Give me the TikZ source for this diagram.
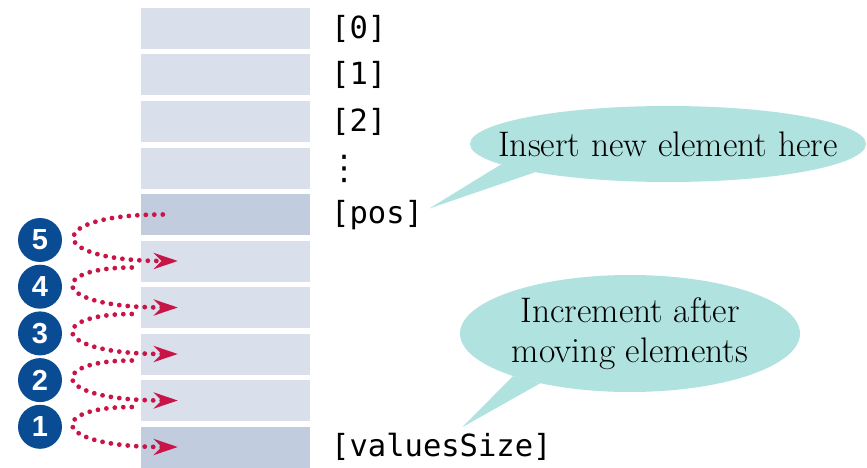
\documentclass[tikz,border=0pt]{standalone}
\usepackage{fontspec}
\setmonofont{DejaVu Sans Mono}
\newfontfamily\symfont{DejaVu Sans}
\newfontfamily\numfont{Liberation Sans}
\usetikzlibrary{calc,arrows.meta,shapes.geometric}

\definecolor{cellpale}{RGB}{217,223,235}
\definecolor{celldark}{RGB}{193,204,223}
\definecolor{movered}{RGB}{200,20,70}
\definecolor{stepblue}{RGB}{10,76,148}
\definecolor{bubbleteal}{RGB}{176,226,224}

\tikzset{
  cell/.style={rectangle, draw=none, minimum width=169, minimum height=41, inner sep=0},
  idx/.style={anchor=west, inner sep=0, font=\ttfamily\fontsize{30.5}{30.5}\selectfont},
  stepnum/.style={circle, fill=stepblue, minimum size=44, inner sep=0, text=white,
    font=\numfont\bfseries\fontsize{29}{29}\selectfont},
  movearrow/.style={movered, line width=4.8, line cap=round, dash pattern=on 0pt off 8.5pt,
    -{Stealth[length=24, width=16]}},
  bubble/.style={ellipse, fill=bubbleteal, draw=none, inner sep=0},
  bubbletext/.style={align=center, font=\fontsize{35.5}{40}\selectfont}
}

\begin{document}
\begin{tikzpicture}[x=1pt, y=-1pt]
  \useasboundingbox (0,0) rectangle (867,468);

  %%%%% array cells %%%%%
  \foreach \i in {0,...,9}{
    \node[cell, fill=cellpale] (cell\i) at (225.5, 28.5+46.5*\i) {};
  }
  \node[cell, fill=celldark] at (cell4) {};
  \node[cell, fill=celldark] at (cell9) {};

  %%%%% index labels %%%%%
  \node[idx] (lbl0) at (331, 28.5) {[0]};
  \node[idx] (lbl1) at (331, 75) {[1]};
  \node[idx] (lbl2) at (331, 121.5) {[2]};
  \node[idx, font=\symfont\fontsize{34}{34}\selectfont] (lbldots) at (327, 169) {⋮};
  \node[idx] (pos) at (331, 215.5) {[pos]};
  \node[idx] (vsz) at (331, 447) {[valuesSize]};

  %%%%% moves %%%%%
  \coordinate (s5) at ($(cell4.west)+(22,0)$);
  \draw[movearrow] (s5) .. controls +(-120,0) and +(-134,0) .. ($(cell5.west)+(37,0)$);
  \foreach \k/\t in {5/6,6/7,7/8,8/9}{
    \draw[movearrow] ($(cell\k.west)+(-9,6.5)$) .. controls +(-84,0) and +(-130,0) .. ($(cell\t.west)+(37,0)$);
  }

  %%%%% step numbers %%%%%
  \foreach \n in {1,...,5}{
    \node[stepnum] (step\n) at (40, 240+46.7*5-46.7*\n) {\n};
  }

  %%%%% callouts %%%%%
  \node[bubble, minimum width=396, minimum height=76] (insbub) at (668,144) {};
  \coordinate (instip) at ($(pos.east)+(6,-7)$);
  \fill[bubbleteal] (insbub.187) -- (instip) -- (insbub.192) -- cycle;
  \node[bubbletext] at (insbub.center) {Insert new element here};

  \node[bubble, minimum width=340, minimum height=117] (incbub) at (630,333.5) {};
  \coordinate (inctip) at ($(vsz.north)+(21,-6)$);
  \fill[bubbleteal] (incbub.200) -- (inctip) -- (incbub.209) -- cycle;
  \node[bubbletext] at (incbub.center) {Increment after\\moving elements};
\end{tikzpicture}
\end{document}
